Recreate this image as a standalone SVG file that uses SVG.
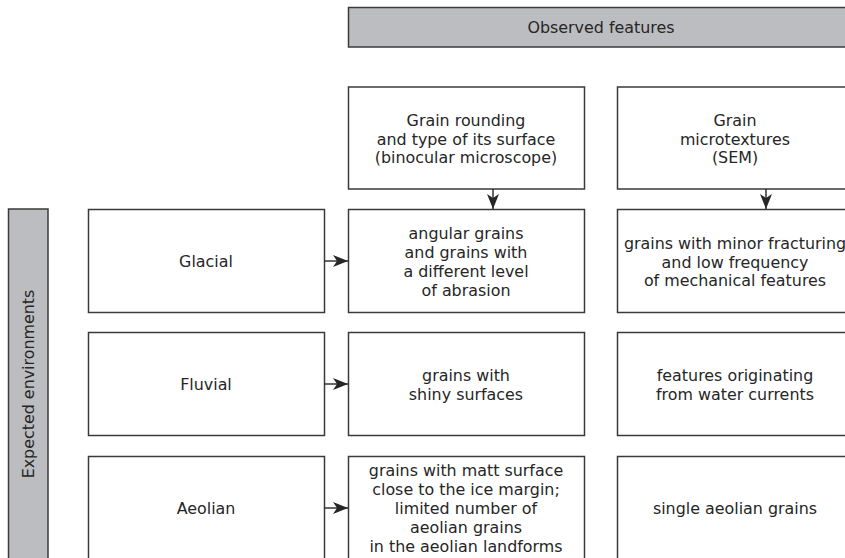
<svg xmlns="http://www.w3.org/2000/svg" width="845" height="558" viewBox="0 0 845 558">
<style>
.box{fill:#fff;stroke:#3a3a3a;stroke-width:1.5}
.hdr{fill:#bcbdc0;stroke:#3a3a3a;stroke-width:1.5}
text{font-family:"DejaVu Sans",sans-serif;font-size:15.9px;fill:#262626;text-anchor:middle}
.conn{stroke:#262626;stroke-width:1.4;fill:none}
</style>
<defs>
<marker id="ah" viewBox="0 0 15 12" refX="15" refY="6" markerWidth="15" markerHeight="12" markerUnits="userSpaceOnUse" orient="auto">
<path d="M0,0 L15,6 L0,12 L4,6 Z" fill="#262626"/>
</marker>
</defs>
<rect width="845" height="558" fill="#fff"/>
<g id="observed">
<rect class="hdr" x="348.5" y="7.5" width="510" height="39.5"/>
<text x="601" y="33">Observed features</text>
</g>
<g id="expected">
<rect class="hdr" x="8.5" y="209" width="39.5" height="360"/>
<text transform="translate(33.5,384) rotate(-90)">Expected environments</text>
</g>
<g id="col1">
<rect class="box" x="348.5" y="87" width="236" height="102"/>
<text x="466" y="126">Grain rounding</text>
<text x="466" y="144.5">and type of its surface</text>
<text x="466" y="163">(binocular microscope)</text>
</g>
<g id="col2">
<rect class="box" x="617.5" y="87" width="236" height="102"/>
<text x="735" y="126">Grain</text>
<text x="735" y="144.5">microtextures</text>
<text x="735" y="163">(SEM)</text>
</g>
<g id="glacial">
<rect class="box" x="88.5" y="209.5" width="236" height="103"/>
<text x="206" y="267">Glacial</text>
</g>
<g id="fluvial">
<rect class="box" x="88.5" y="332.5" width="236" height="103"/>
<text x="206" y="390">Fluvial</text>
</g>
<g id="aeolian">
<rect class="box" x="88.5" y="456.5" width="236" height="103"/>
<text x="206" y="514">Aeolian</text>
</g>
<g id="glacial-rounding">
<rect class="box" x="348.5" y="209.5" width="236" height="103"/>
<text x="466" y="239">angular grains</text>
<text x="466" y="258">and grains with</text>
<text x="466" y="277">a different level</text>
<text x="466" y="296">of abrasion</text>
</g>
<g id="glacial-sem">
<rect class="box" x="617.5" y="209.5" width="236" height="103"/>
<text x="735" y="249">grains with minor fracturing</text>
<text x="735" y="267.5">and low frequency</text>
<text x="735" y="286">of mechanical features</text>
</g>
<g id="fluvial-rounding">
<rect class="box" x="348.5" y="332.5" width="236" height="103"/>
<text x="466" y="381">grains with</text>
<text x="466" y="399.5">shiny surfaces</text>
</g>
<g id="fluvial-sem">
<rect class="box" x="617.5" y="332.5" width="236" height="103"/>
<text x="735" y="381">features originating</text>
<text x="735" y="399.5">from water currents</text>
</g>
<g id="aeolian-rounding">
<rect class="box" x="348.5" y="456.5" width="236" height="103"/>
<text x="466" y="476">grains with matt surface</text>
<text x="466" y="495">close to the ice margin;</text>
<text x="466" y="514">limited number of</text>
<text x="466" y="533">aeolian grains</text>
<text x="466" y="552">in the aeolian landforms</text>
</g>
<g id="aeolian-sem">
<rect class="box" x="617.5" y="456.5" width="236" height="103"/>
<text x="735" y="514">single aeolian grains</text>
</g>
<g id="connectors">
<line class="conn" x1="324.5" y1="261" x2="348" y2="261" marker-end="url(#ah)"/>
<line class="conn" x1="324.5" y1="384" x2="348" y2="384" marker-end="url(#ah)"/>
<line class="conn" x1="324.5" y1="508" x2="348" y2="508" marker-end="url(#ah)"/>
<line class="conn" x1="493" y1="189" x2="493" y2="209" marker-end="url(#ah)"/>
<line class="conn" x1="766" y1="189" x2="766" y2="209" marker-end="url(#ah)"/>
</g>
</svg>
